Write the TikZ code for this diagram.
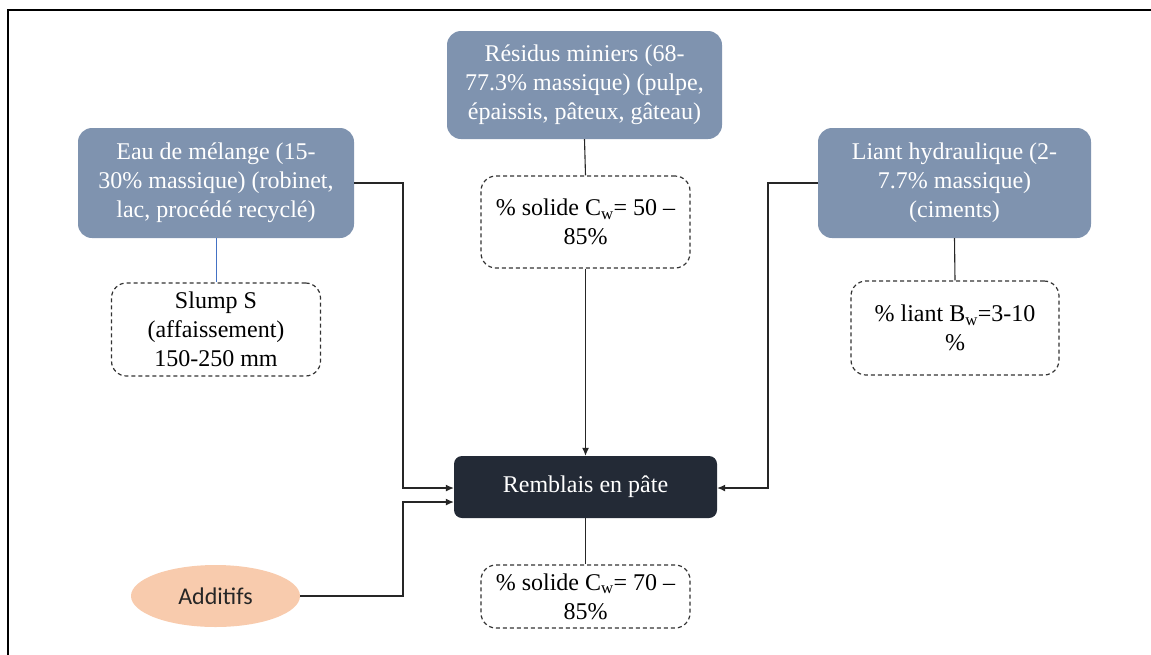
\documentclass[tikz,border=0pt]{standalone}
\usepackage{fontspec}
\setmainfont{Liberation Serif}
\newfontfamily\calibri{Carlito}
\usetikzlibrary{shapes.geometric,arrows.meta}
\definecolor{boxblue}{HTML}{7F93AF}
\definecolor{boxdark}{HTML}{232A36}
\definecolor{peach}{HTML}{F8CBAD}
\definecolor{linkblue}{HTML}{4472C4}
\tikzset{
  txt/.style={font=\fontsize{24}{29}\selectfont, align=center, inner sep=0pt},
  bluebox/.style={txt, fill=boxblue, text=white, rounded corners=14pt, minimum width=276pt, minimum height=110pt},
  dashbox/.style={txt, draw=black!80, dashed, dash pattern=on 4pt off 3pt, line width=1.2pt, rounded corners=15pt, minimum width=209pt},
  darkbox/.style={txt, fill=boxdark, text=white, rounded corners=8pt, minimum width=263pt, minimum height=62pt},
  addbox/.style={ellipse, fill=peach, inner sep=0pt, minimum width=169pt, minimum height=62pt, font=\calibri\fontsize{24}{29}\selectfont, text=black!85},
  conn/.style={line width=1.1pt, black!85},
  arr/.style={conn, -{Latex[length=8pt,width=7pt]}}
}
\begin{document}
\begin{tikzpicture}[x=1pt,y=-1pt]
\useasboundingbox (0,0) rectangle (1151,654);
\draw[line width=2.2pt] (8,656) -- (8,10) -- (1153,10);

\node[bluebox] (eau) at (216,183) {Eau de mélange (15-\\30\% massique) (robinet,\\lac, procédé recyclé)};
\node[bluebox, minimum width=275pt, minimum height=108pt] (res) at (584.5,85) {Résidus miniers (68-\\77.3\% massique) (pulpe,\\épaissis, pâteux, gâteau)};
\node[bluebox, minimum width=273pt] (liant) at (954.5,183) {Liant hydraulique (2-\\7.7\% massique)\\(ciments)};

\node[dashbox, minimum height=93pt] (slump) at (216,329.5) {Slump S\\(affaissement)\\150-250 mm};
\node[dashbox, minimum height=92pt] (sol1) at (585.5,222) {\% solide C\textsubscript{w}= 50 –\\85\%};
\node[dashbox, minimum height=94pt, minimum width=208pt] (bw) at (955,328) {\% liant B\textsubscript{w}=3-10\\\%};

\node[darkbox] (remb) at (585.5,487) {Remblais en pâte};
\node[dashbox, minimum height=63pt] (sol2) at (585.5,596.5) {\% solide C\textsubscript{w}= 70 –\\85\%};

\node[addbox] (add) at (215.5,596) {Additifs};

\draw[line width=0.8pt, linkblue] (eau.south) -- (slump.north);
\draw[conn] (res.south) -- (sol1.north);
\draw[conn] (liant.south) -- (bw.north);
\draw[conn] (remb.south) -- (sol2.north);
\draw[arr] (sol1.south) -- (remb.north);

\coordinate (e1) at (403,183);
\coordinate (e2) at (403,488);
\draw[arr] (eau.east |- e1) -- (e1) -- (e2) -- (remb.west |- e2);

\coordinate (a1) at (403,596);
\coordinate (a2) at (403,502);
\draw[arr] (add.east) -- (a1) -- (a2) -- (remb.west |- a2);

\coordinate (l1) at (768,183);
\coordinate (l2) at (768,488);
\draw[arr] (liant.west |- l1) -- (l1) -- (l2) -- (remb.east |- l2);
\end{tikzpicture}
\end{document}
